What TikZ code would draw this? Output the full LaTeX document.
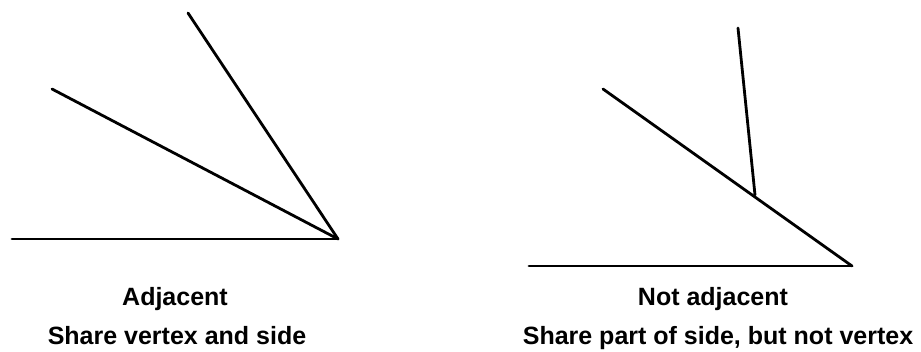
\documentclass[tikz,border=0pt]{standalone}
\usepackage{fontspec}
\setmainfont{Liberation Sans}
\begin{document}
\begin{tikzpicture}[x=1pt,y=-1pt,
  ray/.style={line width=2.8pt,black,line cap=round},
  lbl/.style={font=\fontsize{25}{30}\selectfont\bfseries,inner sep=0pt,anchor=base}]
\useasboundingbox (0,0) rectangle (921,351);
% left figure
\coordinate (lv) at (338,239);
\coordinate (lh) at (12,239);
\coordinate (lm) at (52,89);
\coordinate (lt) at (188,13);
\draw[ray] (lh) -- (lv);
\draw[ray] (lm) -- (lv);
\draw[ray] (lt) -- (lv);
% right figure
\coordinate (rv) at (852,266);
\coordinate (rh) at (529,266);
\coordinate (rm) at (603,89);
\coordinate (rf) at (755,195);
\coordinate (rt) at (738,28);
\draw[ray] (rh) -- (rv);
\draw[ray] (rm) -- (rv);
\draw[ray] (rf) -- (rt);
% labels
\node[lbl] (la) at (175,305) {Adjacent};
\node[lbl] (lb) at (177,344) {Share vertex and side};
\node[lbl] (ra) at (713,305) {Not adjacent};
\node[lbl] (rb) at (718,344) {Share part of side, but not vertex};
\end{tikzpicture}
\end{document}
